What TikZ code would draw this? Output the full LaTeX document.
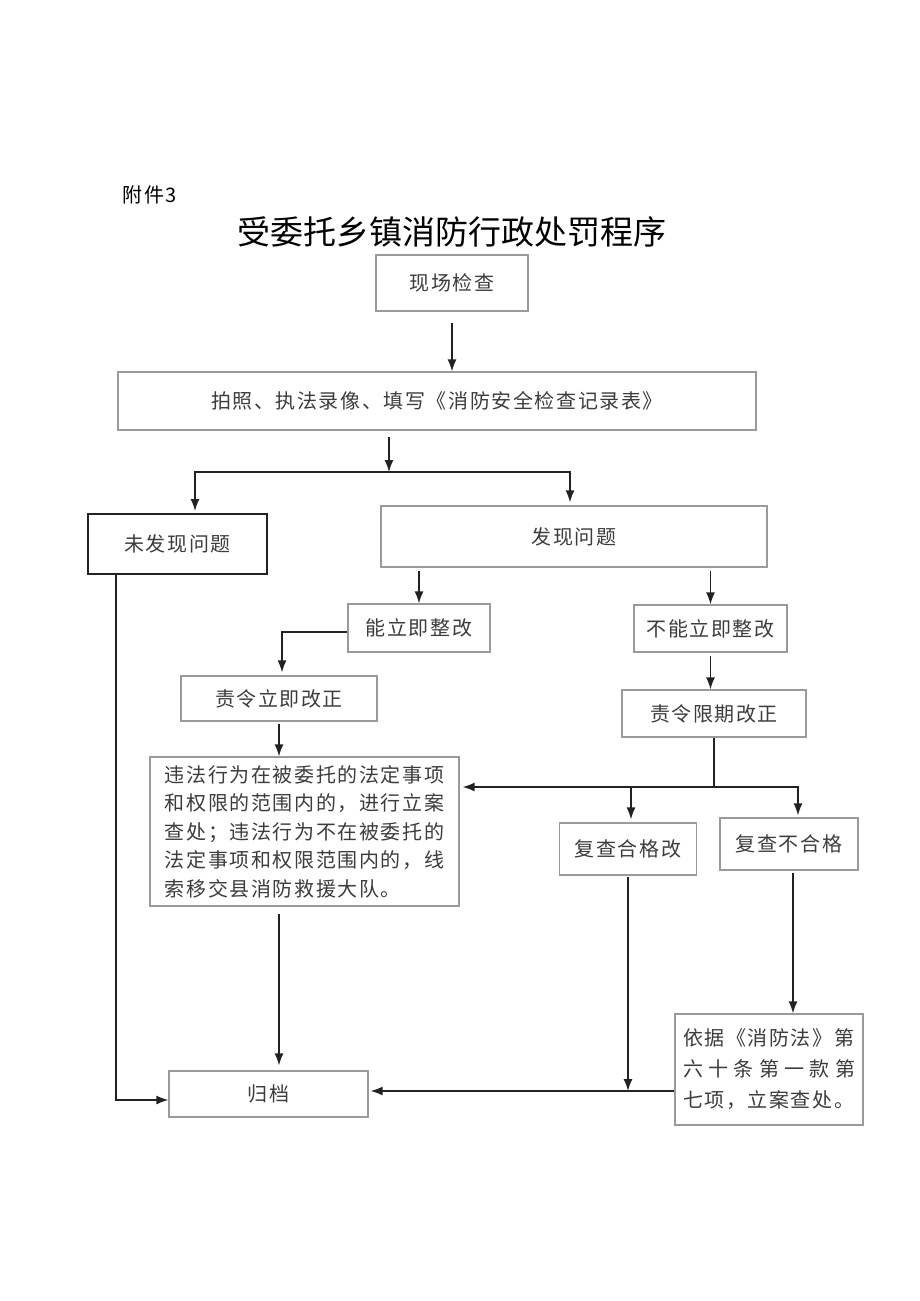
\documentclass[tikz,border=0pt]{standalone}
\usepackage{fontspec}
\setmainfont{Noto Sans CJK SC}
\newfontfamily\boxfont[LetterSpace=8]{Noto Sans CJK SC}
\usetikzlibrary{arrows.meta}
\definecolor{boxline}{HTML}{9A9A9A}
\definecolor{boxtext}{HTML}{3C3C3C}
\definecolor{arrline}{HTML}{222222}
\tikzset{
  box/.style={draw=boxline,line width=1.2pt,inner sep=0pt,text=boxtext,
    font=\boxfont\fontsize{20pt}{28.5pt}\selectfont},
  arr/.style={draw=arrline,line width=1.5pt,-{Latex[length=12pt,width=9pt]}},
  link/.style={draw=arrline,line width=1.5pt}
}
\begin{document}
\begin{tikzpicture}[x=1pt,y=-1pt]
  \useasboundingbox[fill=white] (0,0) rectangle (920,1301);
  % titles
  \node[anchor=west,font=\boxfont\fontsize{20pt}{24pt}\selectfont] (annex) at (119,195) {附件3};
  \node[font=\fontsize{33pt}{38pt}\selectfont] (title) at (452,232) {受委托乡镇消防行政处罚程序};
  % boxes
  \node[box,minimum width=152pt,minimum height=56pt] (check) at (452,283) {现场检查};
  \node[box,minimum width=638pt,minimum height=58pt] (record) at (437,401) {拍照、执法录像、填写《消防安全检查记录表》};
  \node[box,draw=arrline,line width=2pt,minimum width=179pt,minimum height=60pt] (nofind) at (177.5,544) {未发现问题};
  \node[box,minimum width=386pt,minimum height=61pt] (find) at (574,536.5) {发现问题};
  \node[box,minimum width=142pt,minimum height=48pt] (canfix) at (419,628) {能立即整改};
  \node[box,minimum width=153pt,minimum height=47pt] (cannotfix) at (710.5,628.5) {不能立即整改};
  \node[box,minimum width=196pt,minimum height=45pt] (orderfix) at (279,698.5) {责令立即改正};
  \node[box,minimum width=184pt,minimum height=47pt] (orderlimit) at (714,713.5) {责令限期改正};
  \node[box,minimum width=309pt,minimum height=149pt,align=left] (handle) at (304.5,831.5)
    {违法行为在被委托的法定事项\\和权限的范围内的，进行立案\\查处；违法行为不在被委托的\\法定事项和权限范围内的，线\\索移交县消防救援大队。};
  \node[box,minimum width=137pt,minimum height=52pt] (pass) at (628,849) {复查合格改};
  \node[box,minimum width=138pt,minimum height=52pt] (fail) at (789,844) {复查不合格};
  \node[box,minimum width=188pt,minimum height=111pt,align=left,
    font=\boxfont\fontsize{20pt}{31pt}\selectfont] (law) at (769,1069.5)
    {\makebox[172pt][s]{依据《消防法》第}\\
     \makebox[172pt][s]{六\hfill 十\hfill 条\hfill 第\hfill 一\hfill 款\hfill 第}\\
     \makebox[172pt][s]{七项，立案查处。}};
  \node[box,minimum width=199pt,minimum height=46pt] (archive) at (268.5,1094) {归档};
  % joints
  \coordinate (split) at (389,472);
  \coordinate (joint) at (714,787);
  \coordinate (merge) at (628,1091);
  % connectors
  \draw[arr,shorten <=11pt] (check.south) -- (check.south |- record.north);
  \draw[arr,shorten <=6pt] (record.south -| split) -- (split);
  \draw[arr] (split) -| ([xshift=17.5pt,yshift=2pt]nofind.north);
  \draw[arr] (split) -| ([xshift=-4pt,yshift=3pt]find.north);
  \draw[arr,shorten <=3pt] (find.south -| canfix.north) -- (canfix.north);
  \draw[arr,shorten <=3pt] (find.south -| cannotfix.north) -- (cannotfix.north);
  \draw[arr] ([yshift=-4pt]canfix.west) -| ([xshift=3pt,yshift=3pt]orderfix.north);
  \draw[arr,shorten <=3pt] (cannotfix.south) -- (cannotfix.south |- orderlimit.north);
  \draw[arr,shorten <=2pt] (orderfix.south) -- (orderfix.south |- handle.north);
  \draw[link] (orderlimit.south) -- (joint);
  \draw[arr] (joint) -- ([xshift=3pt]joint -| handle.east);
  \draw[arr] (joint) -| ([xshift=3pt,yshift=3pt]pass.north);
  \draw[arr] (joint) -| ([xshift=9pt,yshift=2pt]fail.north);
  \draw[arr,shorten <=2pt] ([xshift=4pt]fail.south) -- ([xshift=4pt]fail.south |- law.north);
  \draw[arr,shorten <=1pt] (pass.south) -- (merge);
  \draw[arr] (law.west |- merge) -- ([xshift=2pt]merge -| archive.east);
  \draw[arr,shorten <=7pt] (orderfix.south |- handle.south) -- ([yshift=5pt]orderfix.south |- archive.north);
  \draw[arr] ([xshift=-61.5pt]nofind.south) |- ([yshift=-6pt]archive.west);
\end{tikzpicture}
\end{document}
